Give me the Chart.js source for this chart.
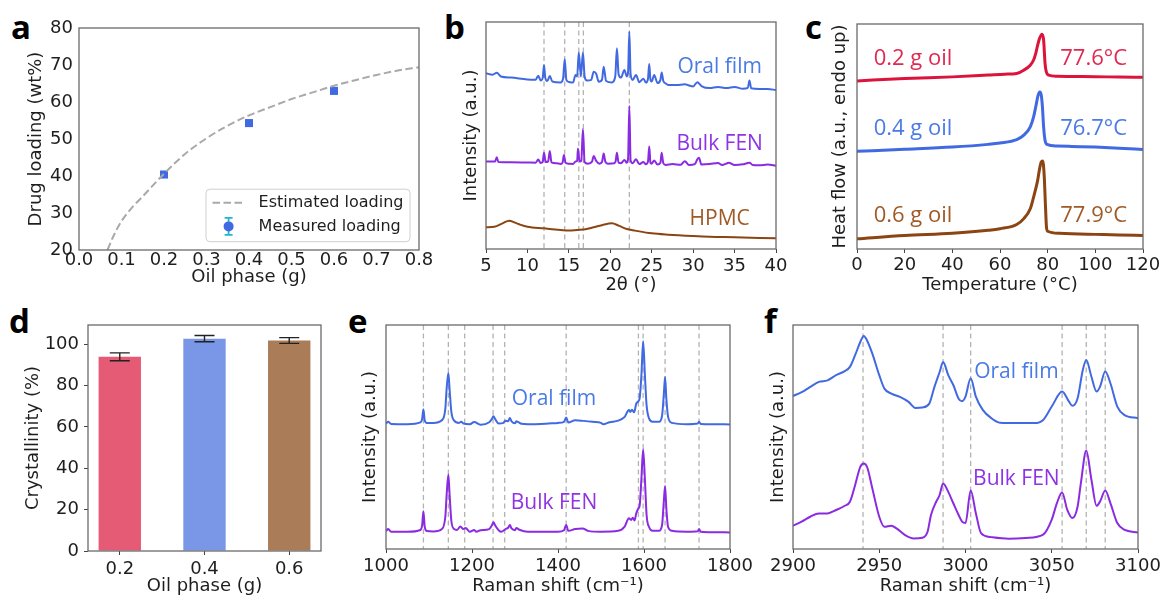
<!DOCTYPE html>
<html><head><meta charset="utf-8">
<script src="https://cdn.jsdelivr.net/npm/chart.js@4.4.1/dist/chart.umd.min.js"></script>
<style>
html,body{margin:0;padding:0;background:#fff;overflow:hidden;width:1161px;height:597px;}
canvas{position:absolute;}
.lbl{position:absolute;font-family:"Open Sans";font-weight:700;font-size:33px;line-height:33px;color:#000;}
</style></head><body>
<div class="lbl" style="left:11px;top:10px">a</div>
<div class="lbl" style="left:444px;top:10px">b</div>
<div class="lbl" style="left:805px;top:10px">c</div>
<div class="lbl" style="left:9px;top:304px">d</div>
<div class="lbl" style="left:348px;top:304px">e</div>
<div class="lbl" style="left:764px;top:304px">f</div>
<canvas id="ca"></canvas><canvas id="cb"></canvas><canvas id="cc"></canvas>
<canvas id="cd"></canvas><canvas id="ce"></canvas><canvas id="cf"></canvas>
<script>
// ---------- data ----------
// (a) drug loading vs oil phase
const aCurveX = [0.067,0.08,0.1,0.125,0.15,0.2,0.25,0.3,0.35,0.4,0.45,0.5,0.55,0.6,0.65,0.7,0.75,0.8];
const aCurveY = [20,23.5,27.8,31.5,34.5,40.6,46.0,50.2,53.6,56.4,58.6,60.8,62.6,64.4,65.9,67.3,68.5,69.4];
const aMeasX = [0.2,0.4,0.6];
const aMeasY = [40.4,54.3,63.0];
const aMeasErr = [0.5,0.5,0.6];
// (b) XRD
const bOralX = [5,5.8,6.3,6.8,8,10,11,11.3,11.6,11.85,12.0,12.15,12.4,12.7,13.0,14.0,14.3,14.5,14.7,15.0,15.5,15.8,16.0,16.2,16.45,16.7,16.9,17.2,17.7,18.0,18.3,18.6,19.0,19.2,19.5,20.2,20.6,20.8,21.0,21.3,21.7,22.0,22.15,22.3,22.45,22.7,23.1,23.5,24.0,24.3,24.55,24.7,24.85,25.0,25.3,25.7,26.05,26.2,26.4,26.7,27.0,28.0,29.0,29.5,30.0,30.5,31.0,32.0,33.0,34.0,35.0,36.0,36.6,36.8,37.0,38,39,40];
const bOralY = [77.4,76.8,77.6,76.0,75.5,74.7,74.6,76.3,74.2,75.5,81.1,75.5,74.0,76.2,73.8,73.4,75.0,83.6,74.5,73.6,73.3,76.6,76.0,86.6,76.0,86.6,76.0,74.2,74.5,78.1,77.2,73.7,74.5,80.3,74.0,73.4,76.0,88.4,77.0,75.5,78.9,76.0,78.0,95.7,77.0,74.5,76.6,73.5,75.0,73.3,75.0,81.5,74.5,73.8,76.6,73.1,74.5,77.7,74.0,72.9,72.3,72.2,72.6,72.0,71.6,73.5,71.8,70.9,71.4,70.9,71.4,70.6,71.0,74.2,70.8,70.5,70.5,70.0];
const bBulkX = [5,6.1,6.3,6.5,8,10,11,11.3,11.6,11.85,12.0,12.2,12.5,12.7,12.9,13.5,14.0,14.25,14.4,14.6,15.0,15.5,15.8,16.0,16.1,16.3,16.5,16.7,16.9,17.3,17.8,18.0,18.3,18.7,19.0,19.2,19.4,19.7,20.5,20.65,20.8,21.0,21.3,21.7,22.0,22.15,22.3,22.45,22.7,23.1,23.5,24.0,24.3,24.55,24.7,24.85,25.0,25.3,25.7,26.05,26.2,26.4,26.7,27.5,28.5,29.0,29.5,30.2,30.5,30.7,31.0,32.0,33.0,33.5,34.0,34.3,35.0,36.0,36.5,36.8,37.2,38.0,39,40];
const bBulkY = [38.5,38.6,40.4,38.3,38.2,38.1,38.0,39.4,37.9,38.5,42.4,38.3,38.6,43.2,38.2,37.8,37.5,38.2,41.4,38.0,37.6,37.5,38.5,38.8,44.3,38.5,38.8,52.7,38.3,37.6,38.5,41.0,38.8,37.6,38.3,42.1,38.5,37.6,37.8,38.8,42.4,38.0,37.8,39.2,38.0,40.0,63.0,39.0,37.8,39.5,37.4,38.3,37.3,38.5,45.1,38.0,37.6,39.0,37.2,38.0,42.4,37.8,37.0,37.4,37.1,38.7,37.0,37.4,39.5,40.2,37.2,37.4,37.9,37.0,37.6,38.0,37.0,37.3,37.8,38.0,37.0,36.9,37.2,36.7];
const bHpmcX = [5,6,7,7.8,8.5,9,10,12,14,15,16,17,18,19,20.2,21,22,23,25,27,30,32,35,38,40];
const bHpmcY = [9.6,9.8,11.3,12.5,11.6,10.9,9.8,9.1,8.4,8.1,8.4,8.7,9.6,10.5,11.3,10.3,8.8,8.1,6.9,6.3,5.7,5.4,5.2,4.9,4.7];
const bPeakLines = [12.0,14.5,16.2,16.75,22.3];
// (c) DSC
const cRedX = [0,20,40,55,62,67,70,72.7,74.1,75,75.8,76.6,77.6,78.3,78.9,79.4,80.4,84,90,100,110,120];
const cRedY = [74.7,75.8,76.5,77.3,77.7,78.0,79.5,81.7,84.0,86.9,90.6,93.6,95.5,92.9,82.5,78.8,77.3,76.8,76.7,76.6,76.4,76.3];
const cBlueX = [0,20,40,55,60,67,70,72.7,74.1,75,76,76.7,77.3,77.8,78.3,78.9,79.7,84,90,100,110,120];
const cBlueY = [43.4,44.3,45.3,46.5,47.1,48.6,50.6,54.3,58.7,63.2,68.4,69.8,68.4,63.2,54.3,48.3,46.5,45.8,45.6,45.3,44.8,44.2];
const cBrownX = [0,20,40,55,60,67,70,72.7,74.1,75,75.8,76.5,77.3,77.9,78.5,79.1,79.5,80,85,90,100,110,120];
const cBrownY = [4.5,6.0,7.0,8.3,9.0,10.9,13.5,17.9,23.1,26.8,30.5,35.0,38.7,39.1,33.5,18.6,9.7,7.9,7.0,6.8,6.5,6.2,6.0];
// (d) crystallinity
const dCats = ['0.2','0.4','0.6'];
const dVals = [93.9,102.7,101.8];
const dErr = [1.9,1.5,1.4];
// (e) Raman 1000-1800
const eOralX = [1000,1005,1012,1050,1080,1084,1087,1090,1095,1110,1130,1138,1141,1145,1148,1152,1158,1170,1175,1180,1195,1205,1220,1240,1246,1250,1254,1262,1272,1278,1284,1288,1292,1300,1303,1308,1315,1330,1360,1400,1414,1419,1424,1440,1460,1480,1500,1505,1520,1540,1555,1565,1568,1572,1577,1582,1587,1590,1594,1598,1602,1606,1612,1620,1635,1642,1646,1649,1652,1656,1665,1700,1725,1728,1732,1760,1800];
const eOralY = [56.0,56.8,55.8,55.7,56.5,58.0,62.4,57.5,56.3,56.3,57.5,62.7,71.6,78.6,71.0,61.2,57.4,56.3,56.8,56.0,55.7,56.7,55.5,56.6,58.0,59.3,58.0,56.0,56.2,57.3,57.0,58.5,57.0,56.1,57.0,56.6,55.9,55.7,55.8,56.3,56.8,58.7,56.5,57.5,57.2,56.8,56.3,55.7,56.6,57.3,59.0,62.0,61.2,62.2,61.0,64.9,66.0,67.5,77.6,92.7,78.0,64.2,58.2,56.8,56.8,59.5,68.7,76.8,67.1,59.0,56.3,55.7,56.0,56.8,55.8,55.7,55.6];
const eBulkX = [1000,1005,1012,1050,1080,1084,1087,1090,1095,1110,1130,1138,1141,1145,1148,1152,1158,1165,1173,1180,1185,1195,1205,1210,1220,1240,1246,1250,1254,1262,1268,1278,1284,1288,1292,1300,1303,1310,1330,1360,1400,1414,1419,1424,1440,1457,1470,1500,1540,1555,1565,1570,1574,1578,1582,1587,1590,1594,1598,1602,1606,1612,1620,1635,1642,1646,1649,1652,1656,1665,1700,1725,1728,1732,1760,1800];
const eBulkY = [8.0,8.9,7.7,7.7,8.5,10.5,16.9,10.0,8.0,7.8,8.9,14.5,24.1,33.3,24.0,12.5,9.0,8.5,10.0,8.9,9.4,7.7,8.5,7.7,8.4,8.9,10.5,11.9,10.5,8.4,7.7,8.9,9.5,10.7,9.2,8.4,9.4,8.6,7.7,7.7,7.7,8.4,10.7,8.1,8.9,9.2,8.1,7.7,8.1,10.0,13.7,13.0,14.0,12.7,15.9,18.1,19.5,31.5,44.4,31.5,15.3,9.7,8.1,8.1,10.7,21.0,28.1,18.1,9.8,8.1,7.7,7.9,8.9,7.7,7.5,7.4];
const ePeakLines = [1087,1145,1183,1249,1276,1419,1587,1598,1649,1728];
// (f) Raman 2900-3100
const fOralX = [2900,2905,2910,2915,2920,2925,2930,2933,2936,2939,2941,2943,2946,2950,2953,2957,2962,2967,2971,2975,2979,2982,2985,2987,2990,2993,2996,2998,3000,3003,3006,3010,3015,3020,3030,3040,3045,3050,3056,3060,3062,3065,3068,3070,3073,3076,3078,3081,3084,3088,3092,3100];
const fOralY = [68.3,70.0,72.4,74.6,75.3,77.6,79.4,81.3,86.5,92.4,95.1,93.0,87.2,77.6,71.6,69.4,67.9,65.7,63.0,63.2,64.9,72.4,79.0,83.5,77.6,73.1,67.1,66.0,68.0,76.2,68.0,62.1,58.4,56.4,56.2,56.2,57.6,63.6,70.3,65.8,63.9,67.3,79.9,84.4,76.9,70.3,72.5,79.2,74.0,63.6,59.9,58.4];
const fBulkX = [2900,2905,2910,2915,2920,2925,2930,2933,2936,2939,2941,2943,2946,2950,2953,2957,2960,2965,2970,2975,2978,2980,2983,2985,2987,2990,2993,2996,2998,3000,3003,3006,3009,3015,3025,3035,3045,3050,3053,3056,3059,3062,3065,3067,3070,3073,3076,3078,3081,3084,3088,3092,3100];
const fBulkY = [10.4,12.2,14.4,15.9,15.9,17.4,19.3,21.1,28.5,36.7,38.2,36.5,27.0,14.4,9.9,10.4,9.2,6.2,4.7,5.0,7.7,15.2,21.1,24.1,29.2,25.5,20.3,15.2,12.2,11.6,26.1,16.0,7.1,5.3,4.6,4.9,6.4,13.1,20.5,25.2,17.5,13.8,19.0,30.1,44.0,30.9,19.3,21.2,26.1,20.5,11.6,8.6,7.4];
const fPeakLines = [2940.6,2987,3003,3056,3070,3081];

// ---------- style ----------
const BLUE = '#4169e1', VIOLET = '#8a2be2', BROWN = '#8b4513', RED = '#dc143c';
const BLUE_T = '#4a7ae4', VIOLET_T = '#8f33e3', BROWN_T = '#a05a26', RED_T = '#e0294f';
const TXT = '#1e1e1e';
const TF = {family:'"DejaVu Sans"', size:18};
const HF = {family:'"DejaVu Sans"', size:18};
Chart.defaults.font.family = '"DejaVu Sans"';

const zip = (xs, ys) => xs.map((x, i) => ({x, y: ys[i]}));

const extras = {
  id: 'extras',
  beforeDatasetsDraw(chart, args, o) {
    const {ctx, chartArea: ca, scales: {x, y}} = chart;
    if (o.vlines) {
      ctx.save(); ctx.strokeStyle = '#b3b3b3'; ctx.lineWidth = 1.3; ctx.setLineDash([5, 3.5]);
      o.vlines.forEach(v => { const px = x.getPixelForValue(v); ctx.beginPath(); ctx.moveTo(px, ca.top); ctx.lineTo(px, ca.bottom); ctx.stroke(); });
      ctx.restore();
    }
    if (o.err && o.err.before) drawErr(chart, o.err);
  },
  afterDatasetsDraw(chart, args, o) {
    const {ctx, chartArea: ca, scales: {x, y}} = chart;
    if (o.err && !o.err.before) drawErr(chart, o.err);
    if (o.texts) {
      ctx.save(); ctx.textBaseline = 'alphabetic';
      o.texts.forEach(t => { ctx.font = (t.size || 21) + 'px "Open Sans"'; ctx.fillStyle = t.c; ctx.textAlign = t.align || 'center'; ctx.fillText(t.t, x.getPixelForValue(t.x), y.getPixelForValue(t.y)); });
      ctx.restore();
    }
    if (o.legendA) {
      const w = 204, h = 52.5, L = ca.right - 9 - w, T = ca.bottom - 8.3 - h;
      ctx.save();
      ctx.beginPath(); ctx.roundRect(L, T, w, h, 4);
      ctx.fillStyle = 'rgba(255,255,255,0.85)'; ctx.fill();
      ctx.strokeStyle = '#cfcfcf'; ctx.lineWidth = 1; ctx.stroke();
      const r1 = T + 13.5, r2 = T + 37.2;
      ctx.strokeStyle = '#a9a9a9'; ctx.lineWidth = 2; ctx.setLineDash([7.5, 3.5]);
      ctx.beginPath(); ctx.moveTo(L + 6.5, r1); ctx.lineTo(L + 37.5, r1); ctx.stroke();
      ctx.setLineDash([]);
      const mx = L + 22.6;
      ctx.strokeStyle = '#1fb8c8'; ctx.lineWidth = 1.8;
      ctx.beginPath(); ctx.moveTo(mx, r2 - 8.5); ctx.lineTo(mx, r2 + 8.5);
      ctx.moveTo(mx - 4, r2 - 8.5); ctx.lineTo(mx + 4, r2 - 8.5);
      ctx.moveTo(mx - 4, r2 + 8.5); ctx.lineTo(mx + 4, r2 + 8.5); ctx.stroke();
      ctx.fillStyle = BLUE; ctx.beginPath(); ctx.arc(mx, r2, 5, 0, Math.PI * 2); ctx.fill();
      ctx.fillStyle = TXT; ctx.font = '16px "DejaVu Sans"'; ctx.textBaseline = 'middle'; ctx.textAlign = 'left';
      ctx.fillText('Estimated loading', L + 52.6, r1);
      ctx.fillText('Measured loading', L + 52.6, r2);
      ctx.restore();
    }
  },
  afterDraw(chart) {
    const {ctx, chartArea: ca} = chart;
    ctx.save(); ctx.strokeStyle = '#6a6a6a'; ctx.lineWidth = 1.3;
    ctx.strokeRect(ca.left, ca.top, ca.right - ca.left, ca.bottom - ca.top);
    ctx.restore();
  }
};
function drawErr(chart, e) {
  const {ctx, scales: {x, y}} = chart;
  ctx.save(); ctx.strokeStyle = e.color; ctx.lineWidth = e.lw;
  e.xs.forEach((xv, i) => {
    const px = x.getPixelForValue(xv), p1 = y.getPixelForValue(e.ys[i] + e.es[i]), p2 = y.getPixelForValue(e.ys[i] - e.es[i]);
    ctx.beginPath(); ctx.moveTo(px, p1); ctx.lineTo(px, p2);
    ctx.moveTo(px - e.cap, p1); ctx.lineTo(px + e.cap, p1);
    ctx.moveTo(px - e.cap, p2); ctx.lineTo(px + e.cap, p2); ctx.stroke();
  });
  ctx.restore();
}
Chart.register(extras);

function xAxis(min, max, step, title, tl, pad, fmt) {
  return {
    type: 'linear', min, max, offset: false,
    grid: {display: tl > 0, drawOnChartArea: false, drawTicks: tl > 0, tickLength: tl, color: '#444', lineWidth: 1, offset: false},
    border: {display: false},
    ticks: {stepSize: step, font: TF, color: TXT, padding: pad, maxRotation: 0, minRotation: 0, autoSkip: false, includeBounds: false,
            callback: fmt || (v => String(Math.round(v)))},
    title: {display: true, text: title, font: HF, color: TXT, padding: 0}
  };
}
function yHidden(title) {
  return {type: 'linear', min: 0, max: 100, grid: {display: false, drawTicks: false}, border: {display: false},
          ticks: {display: false}, title: {display: true, text: title, font: HF, color: TXT, padding: 0}};
}
function line(data, color, width, extra) {
  return Object.assign({type: 'line', data, borderColor: color, backgroundColor: color, borderWidth: width,
    pointRadius: 0, cubicInterpolationMode: 'monotone', fill: false}, extra || {});
}
function makePanel(id, box, cfg) {
  const cl = Math.round(box.yTitleX - 10.8), ct = box.t - box.pt, cr = box.r + box.pr, cb = Math.round(box.xTitleY + 10.8);
  const cv = document.getElementById(id);
  cv.style.left = cl + 'px'; cv.style.top = ct + 'px';
  cv.width = cr - cl; cv.height = cb - ct;
  cv.style.width = (cr - cl) + 'px'; cv.style.height = (cb - ct) + 'px';
  const YW = box.l - cl, XH = cb - box.b;
  const o = cfg.options;
  o.responsive = false; o.animation = false; o.devicePixelRatio = 1;
  o.layout = {padding: {left: 0, top: box.pt, right: box.pr, bottom: 0}};
  o.scales.x.afterFit = s => { s.height = XH; s.paddingLeft = 0; s.paddingRight = 0; s.paddingTop = 0; s.paddingBottom = 0; };
  o.scales.y.afterFit = s => { s.width = YW; s.paddingLeft = 0; s.paddingRight = 0; s.paddingTop = 0; s.paddingBottom = 0; };
  o.plugins = Object.assign({legend: {display: false}, tooltip: {enabled: false}}, o.plugins || {});
  return new Chart(cv, cfg);
}

// (a)
makePanel('ca', {l: 79, t: 28, r: 419, b: 250, yTitleX: 36.7, xTitleY: 277, pt: 12, pr: 15}, {
  type: 'line',
  data: {datasets: [
    line(zip(aCurveX, aCurveY), '#a9a9a9', 2, {borderDash: [7.5, 3.5]}),
    line(zip(aMeasX, aMeasY), BLUE, 0, {showLine: false, pointRadius: 5.7, pointStyle: 'rect', pointBackgroundColor: BLUE, pointBorderWidth: 0})
  ]},
  options: {
    plugins: {extras: {legendA: true, err: {xs: aMeasX, ys: aMeasY, es: aMeasErr, color: '#1fb8c8', cap: 4, lw: 1.5, before: true}}},
    scales: {
      x: xAxis(0, 0.8, 0.1, 'Oil phase (g)', 0, 0, v => v.toFixed(1)),
      y: {type: 'linear', min: 20, max: 80, grid: {display: false, drawTicks: false}, border: {display: false},
          ticks: {stepSize: 10, font: TF, color: TXT, padding: 6}, title: {display: true, text: 'Drug loading (wt%)', font: HF, color: TXT, padding: 0}}
    }
  }
});

// (b)
makePanel('cb', {l: 486, t: 22, r: 776, b: 249, yTitleX: 472, xTitleY: 285.3, pt: 10, pr: 20}, {
  type: 'line',
  data: {datasets: [line(zip(bOralX, bOralY), BLUE, 2), line(zip(bBulkX, bBulkY), VIOLET, 2), line(zip(bHpmcX, bHpmcY), BROWN, 2)]},
  options: {
    plugins: {extras: {vlines: bPeakLines, texts: [
      {x: 33.2, y: 77.5, t: 'Oral film', c: BLUE_T}, {x: 33.2, y: 43.6, t: 'Bulk FEN', c: VIOLET_T}, {x: 33.2, y: 10.6, t: 'HPMC', c: BROWN_T}]}},
    scales: {x: xAxis(5, 40, 5, '2θ (°)', 4, 2.5), y: yHidden('Intensity (a.u.)')}
  }
});

// (c)
makePanel('cc', {l: 857, t: 24, r: 1143, b: 249, yTitleX: 841, xTitleY: 285.3, pt: 10, pr: 18}, {
  type: 'line',
  data: {datasets: [line(zip(cRedX, cRedY), RED, 3), line(zip(cBlueX, cBlueY), BLUE, 3), line(zip(cBrownX, cBrownY), BROWN, 3)]},
  options: {
    plugins: {extras: {texts: [
      {x: 7, y: 81.7, t: '0.2 g oil', c: RED_T, align: 'left', size: 22}, {x: 113.3, y: 81.7, t: '77.6°C', c: RED_T, align: 'right', size: 22},
      {x: 7, y: 50.6, t: '0.4 g oil', c: BLUE_T, align: 'left', size: 22}, {x: 113.3, y: 50.6, t: '76.7°C', c: BLUE_T, align: 'right', size: 22},
      {x: 7, y: 11.9, t: '0.6 g oil', c: BROWN_T, align: 'left', size: 22}, {x: 113.3, y: 11.9, t: '77.9°C', c: BROWN_T, align: 'right', size: 22}]}},
    scales: {x: xAxis(0, 120, 20, 'Temperature (°C)', 4, 1.2), y: yHidden('Heat flow (a.u., endo up)')}
  }
});

// (d)
const dX = xAxis(-0.375, 2.375, 1, 'Oil phase (g)', 4, 3.9, v => dCats[Math.round(v)]);
dX.afterBuildTicks = s => { s.ticks = dCats.map((c, i) => ({value: i})); };
makePanel('cd', {l: 88, t: 325, r: 321, b: 551, yTitleX: 34, xTitleY: 586, pt: 12, pr: 8}, {
  type: 'bar',
  data: {datasets: [{data: dVals.map((v, i) => ({x: i, y: v})), backgroundColor: ['#e55a74', '#7a96e6', '#aa7c58'],
    barPercentage: 0.5, categoryPercentage: 1.0, borderWidth: 0}]},
  options: {
    plugins: {extras: {err: {xs: [0, 1, 2], ys: dVals, es: dErr, color: '#222', cap: 10, lw: 1.4, before: false}}},
    scales: {
      x: dX,
      y: {type: 'linear', min: 0, max: 109.3, grid: {display: true, drawOnChartArea: false, drawTicks: true, tickLength: 4, color: '#444'},
          border: {display: false}, ticks: {stepSize: 20, font: TF, color: TXT, padding: 5, includeBounds: false},
          title: {display: true, text: 'Crystallinity (%)', font: HF, color: TXT, padding: 0}}
    }
  }
});

// (e)
makePanel('ce', {l: 386, t: 325, r: 730, b: 549, yTitleX: 370.8, xTitleY: 586, pt: 12, pr: 25}, {
  type: 'line',
  data: {datasets: [line(zip(eOralX, eOralY), BLUE, 2), line(zip(eBulkX, eBulkY), VIOLET, 2)]},
  options: {
    plugins: {extras: {vlines: ePeakLines, texts: [
      {x: 1390.7, y: 64.3, t: 'Oral film', c: BLUE_T}, {x: 1390.7, y: 17.8, t: 'Bulk FEN', c: VIOLET_T}]}},
    scales: {x: xAxis(1000, 1800, 200, 'Raman shift (cm⁻¹)', 4, 2.2), y: yHidden('Intensity (a.u.)')}
  }
});

// (f)
makePanel('cf', {l: 793, t: 325, r: 1138, b: 549, yTitleX: 778.8, xTitleY: 586, pt: 12, pr: 23}, {
  type: 'line',
  data: {datasets: [line(zip(fOralX, fOralY), BLUE, 2), line(zip(fBulkX, fBulkY), VIOLET, 2)]},
  options: {
    plugins: {extras: {vlines: fPeakLines, texts: [
      {x: 3029.5, y: 76.4, t: 'Oral film', c: BLUE_T}, {x: 3029.5, y: 28.7, t: 'Bulk FEN', c: VIOLET_T}]}},
    scales: {x: xAxis(2900, 3100, 50, 'Raman shift (cm⁻¹)', 4, 2.2), y: yHidden('Intensity (a.u.)')}
  }
});
</script>
</body></html>
